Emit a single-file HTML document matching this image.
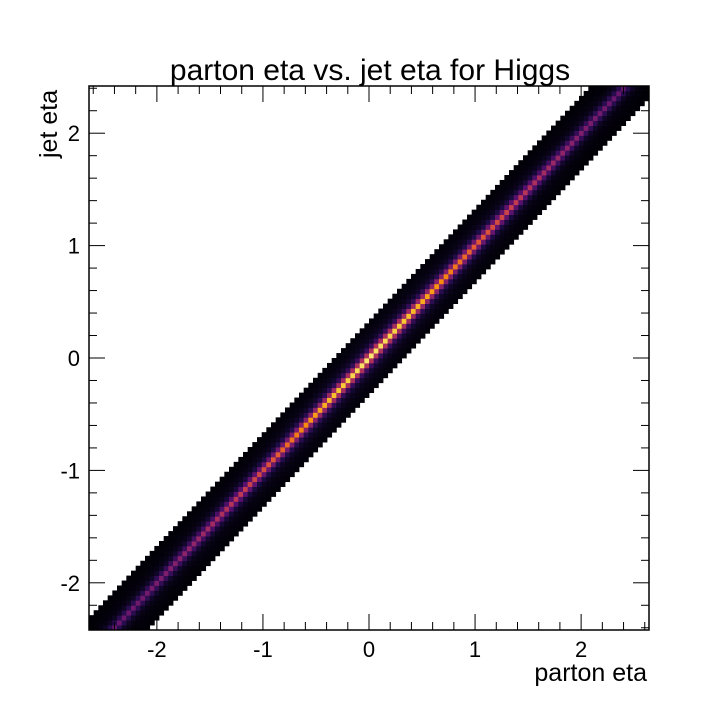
<!DOCTYPE html>
<html><head><meta charset="utf-8"><style>
body{margin:0;background:#fff}
svg{display:block}
text{font-family:"Liberation Sans",sans-serif;fill:#000}
</style></head><body>
<svg id="c" width="720" height="720">
<text x="370" y="80" font-size="30" text-anchor="middle">parton eta vs. jet eta for Higgs</text>
<g id="cells"></g>
<g id="axes"></g>
<text x="647" y="681" font-size="25" text-anchor="end">parton eta</text>
<text transform="translate(57,158) rotate(-90)" font-size="25">jet eta</text>
</svg>
<script>
const xTicks=[-2,-1,0,1,2];
const yTicks=[-2,-1,0,1,2];
const xTickLabels=["-2","-1","0","1","2"];
const yTickLabels=["-2","-1","0","1","2"];
// intensity along diagonal (segments from x=-2.64 to 2.64)
const alongValues=[0.28,0.30,0.34,0.40,0.48,0.58,0.72,0.86,0.95,0.88,0.76,0.64,0.54,0.44,0.36,0.30,0.26];
// profile across diagonal (offset in bins 0..7)
const profileValues=[1.0,0.5,0.2,0.09,0.05,0.03,0.02,0.012];
const XMIN=-2.64,XMAX=2.64,YMIN=-2.42,YMAX=2.42,BW=0.044;
const L=89,R=649,T=86,B=630;
const sx=v=>L+(v-XMIN)/(XMAX-XMIN)*(R-L);
const sy=v=>B-(v-YMIN)/(YMAX-YMIN)*(B-T);
const NS="http://www.w3.org/2000/svg";
const stops=[[0,[0,0,4]],[0.13,[31,12,72]],[0.25,[85,15,109]],[0.38,[136,34,106]],[0.5,[186,54,85]],[0.63,[227,89,51]],[0.75,[249,140,10]],[0.88,[249,201,50]],[1,[252,255,164]]];
function cmap(t){t=Math.max(0,Math.min(1,t));for(let i=1;i<stops.length;i++){if(t<=stops[i][0]){const a=stops[i-1],b=stops[i];const f=(t-a[0])/(b[0]-a[0]);const c=a[1].map((v,k)=>Math.round(v+(b[1][k]-v)*f));return `rgb(${c[0]},${c[1]},${c[2]})`;}}return "rgb(252,255,164)";}
const g=document.getElementById('cells');
const nx=Math.round((XMAX-XMIN)/BW),ny=Math.round((YMAX-YMIN)/BW);
for(let i=0;i<nx;i++){
  const x0=XMIN+i*BW,xc=x0+BW/2;
  const ap=(xc-XMIN)/(XMAX-XMIN)*(alongValues.length-1);
  const a0=Math.floor(ap),a1=Math.min(a0+1,alongValues.length-1);
  const amp=alongValues[a0]+(alongValues[a1]-alongValues[a0])*(ap-a0);
  for(let j=0;j<ny;j++){
    const y0=YMIN+j*BW,yc=y0+BW/2;
    const k=Math.abs(Math.round((yc-xc)/BW));
    if(k>=profileValues.length)continue;
    const v=amp*profileValues[k];
    const r=document.createElementNS(NS,'rect');
    
    
    const px=sx(x0),px2=sx(x0+BW),py=sy(y0+BW),py2=sy(y0);
    r.setAttribute('x',px.toFixed(2));r.setAttribute('y',Math.max(T,py).toFixed(2));
    r.setAttribute('width',(Math.min(R,px2)-px+0.4).toFixed(2));r.setAttribute('height',(Math.min(B,py2)-Math.max(T,py)+0.4).toFixed(2));
    r.setAttribute('fill',cmap(v));
    g.appendChild(r);
  }
}
const ax=document.getElementById('axes');
function line(x1,y1,x2,y2,name){const l=document.createElementNS(NS,'line');


l.setAttribute('x1',x1);l.setAttribute('y1',y1);l.setAttribute('x2',x2);l.setAttribute('y2',y2);l.setAttribute('stroke','#000');l.setAttribute('stroke-width','1');ax.appendChild(l);}
function txt(x,y,s,anchor,name){const t=document.createElementNS(NS,'text');


t.setAttribute('x',x);t.setAttribute('y',y);t.setAttribute('font-size','22');t.setAttribute('text-anchor',anchor);t.textContent=s;ax.appendChild(t);}
const fr=document.createElementNS(NS,'rect');


fr.setAttribute('x',L);fr.setAttribute('y',T);fr.setAttribute('width',R-L);fr.setAttribute('height',B-T);fr.setAttribute('fill','none');fr.setAttribute('stroke','#000');fr.setAttribute('stroke-width','1.5');ax.appendChild(fr);
for(let v=-2.6;v<=2.61;v+=0.2){const m=Math.abs(v-Math.round(v))<1e-6;const x=sx(v);if(x<L||x>R)continue;const len=m?16:8;line(x,B,x,B-len,'x-tick');line(x,T,x,T+len,'x-tick-top');}
for(let v=-2.4;v<=2.41;v+=0.2){const m=Math.abs(v-Math.round(v))<1e-6;const y=sy(v);if(y<T||y>B)continue;const len=m?16:8;line(L,y,L+len,y,'y-tick');line(R,y,R-len,y,'y-tick-right');}
xTicks.forEach((v,i)=>txt(sx(v),657,xTickLabels[i],'middle','x-tick-label'));
yTicks.forEach((v,i)=>txt(L-9,sy(v)+8,yTickLabels[i],'end','y-tick-label'));
</script>
</body></html>
